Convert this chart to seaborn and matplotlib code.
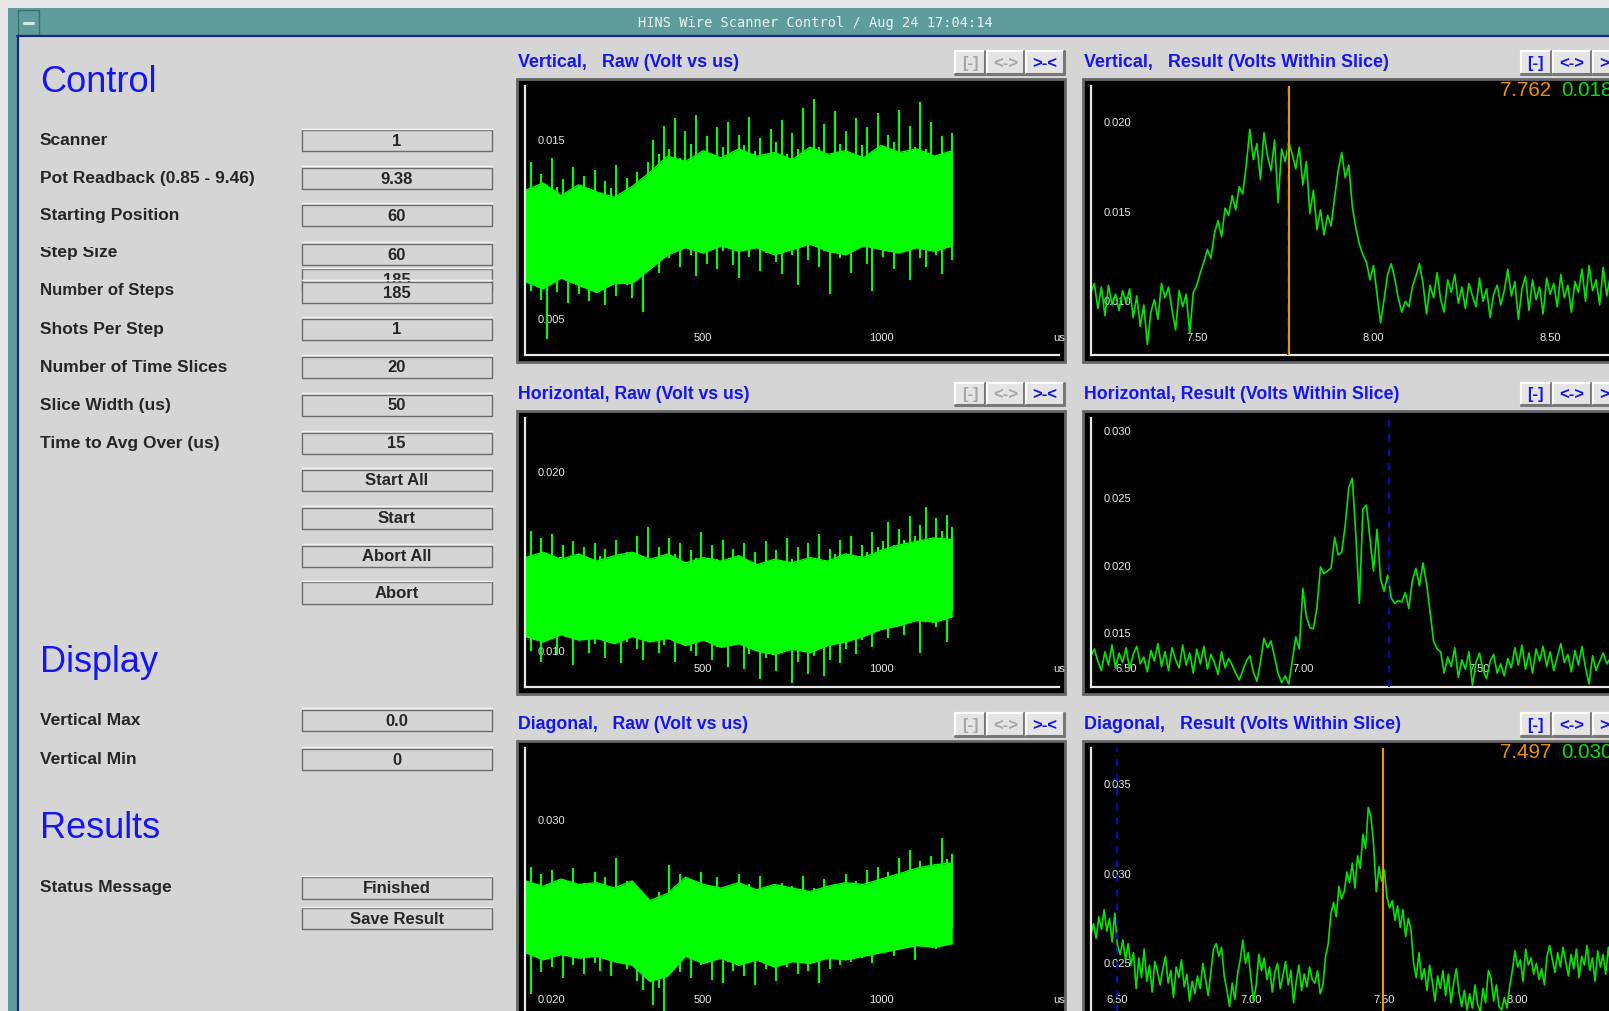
import numpy as np
import matplotlib
matplotlib.use("Agg")
import matplotlib.pyplot as plt
from matplotlib.patches import Rectangle
from matplotlib.ticker import MultipleLocator, FixedLocator, FormatStrFormatter
from matplotlib import font_manager as fm
import seaborn as sns

# ---------------- data ----------------
# left control panel
control_labels = ["Scanner", "Pot Readback (0.85 - 9.46)", "Starting Position", "Step Size",
                  "Number of Steps", "Shots Per Step", "Number of Time Slices",
                  "Slice Width (us)", "Time to Avg Over (us)"]
control_values = ["1", "9.38", "60", "60", "185", "1", "20", "50", "15"]
action_buttons = ["Start All", "Start", "Abort All", "Abort"]
display_labels = ["Vertical Max", "Vertical Min"]
display_values = ["0.0", "0"]
status_label = "Status Message"
status_value = "Finished"
save_label = "Save Result"

panel_titles = [["Vertical,   Raw (Volt vs us)", "Vertical,   Result (Volts Within Slice)"],
                ["Horizontal, Raw (Volt vs us)", "Horizontal, Result (Volts Within Slice)"],
                ["Diagonal,   Raw (Volt vs us)", "Diagonal,   Result (Volts Within Slice)"]]

# raw traces, mV, 0..1200 us
raw_t_end = 1200
# dense core of the trace (every 50 us)
vert_core_top = [12.2, 12.6, 11.9, 12.5, 12.1, 11.8, 12.4, 13.2, 14.1, 13.8, 14.4, 14.0, 14.5, 14.1,
                 14.3, 13.9, 14.6, 14.2, 14.4, 14.0, 14.7, 14.3, 14.5, 14.1, 14.4]
vert_core_bot = [7.1, 6.7, 7.3, 6.9, 6.5, 7.0, 7.0, 7.8, 8.6, 9.0, 8.7, 9.1, 8.8, 9.0, 8.6, 8.9, 9.2,
                 8.8, 8.6, 9.1, 8.9, 8.7, 9.0, 8.8, 9.1]
horiz_core_top = [15.2, 15.5, 15.1, 15.4, 15.0, 15.3, 15.5, 15.1, 15.4, 14.9, 15.2, 15.0, 15.3, 14.8,
                  15.1, 14.9, 15.2, 15.0, 15.4, 15.2, 15.6, 15.9, 16.1, 16.3, 16.2]
horiz_core_bot = [10.8, 10.5, 10.9, 10.6, 10.7, 10.4, 10.8, 10.5, 10.7, 10.3, 10.6, 10.2, 10.4, 10.0,
                  9.8, 10.1, 9.9, 10.3, 10.5, 10.8, 11.2, 11.4, 11.7, 11.6, 11.9]
diag_core_top = [26.6, 26.3, 26.7, 26.4, 26.5, 26.2, 26.6, 25.5, 25.9, 26.8, 26.4, 26.2, 26.5, 26.1,
                 26.4, 26.2, 26.0, 26.3, 26.5, 26.4, 26.7, 27.0, 27.3, 27.5, 27.6]
diag_core_bot = [22.6, 22.2, 22.5, 22.3, 22.4, 22.1, 21.9, 21.0, 21.3, 22.4, 22.0, 22.3, 21.9, 22.2,
                 21.8, 22.1, 22.0, 22.3, 22.2, 22.4, 22.6, 22.8, 23.0, 22.9, 23.1]
# peak excursions (max / min, every 15 us)
vert_raw_top = [12.5, 13.8, 12.1, 13.1, 11.9, 14.0, 12.4, 12.8, 11.7, 13.5, 12.2, 13.0, 12.0, 13.3, 11.8,
                12.7, 12.3, 13.6, 11.9, 12.9, 12.1, 13.2, 12.5,
                13.8, 15.0, 14.2, 15.8, 14.5, 16.2, 14.0, 15.5, 14.8, 16.4, 14.3, 15.2, 13.9, 15.7, 14.6,
                16.0, 14.1, 15.3, 14.7, 16.3, 14.4, 15.1, 14.0, 15.6, 14.9, 16.1, 14.2, 15.4, 14.5, 16.8,
                14.3, 17.3, 14.6, 15.9, 14.1, 16.6, 14.8, 15.5, 14.2, 16.2, 14.7, 15.7, 14.4, 16.5, 14.0,
                15.3, 14.9, 16.7, 14.3, 15.8, 14.6, 17.1, 14.5, 16.0, 14.1, 15.2, 13.9, 15.4]
vert_raw_bot = [7.4, 6.6, 7.9, 6.1, 3.9, 7.2, 6.5, 7.7, 5.9, 7.0, 6.4, 7.8, 6.0, 7.3, 6.7, 5.8, 7.5,
                6.3, 7.1, 6.9, 6.2, 7.6, 5.4,
                8.2, 8.9, 7.6, 9.3, 8.4, 9.0, 7.9, 9.5, 8.6, 7.4, 9.1, 8.1, 9.4, 7.8, 8.8, 9.6, 8.0,
                7.3, 9.2, 8.5, 9.0, 7.7, 8.7, 9.4, 8.2, 7.5, 9.1, 8.6, 6.9, 9.3, 8.3, 9.5, 7.9, 8.8,
                6.4, 9.0, 8.4, 9.2, 7.6, 8.9, 9.4, 8.1, 6.6, 9.1, 8.5, 9.3, 7.8, 8.7, 9.0, 7.2, 9.2,
                8.4, 7.9, 9.1, 8.6, 7.5, 9.0, 8.3]
horiz_raw_top = [15.6, 16.7, 15.0, 16.3, 14.8, 16.5, 15.2, 15.9, 14.6, 16.1, 15.4, 15.8, 14.9, 16.0,
                 15.3, 15.7, 14.7, 16.2, 15.1, 15.5, 14.8, 16.4, 15.2, 16.9, 15.0, 15.8, 14.6, 16.3,
                 15.4, 16.0, 14.9, 15.6, 15.2, 16.6, 14.7, 15.9, 15.1, 16.2, 14.5, 15.7, 15.3, 16.0,
                 14.8, 15.5, 14.4, 16.1, 15.0, 15.6, 14.6, 16.3, 15.1, 15.8, 14.9, 16.0, 15.2, 16.5,
                 14.8, 15.7, 15.4, 16.2, 15.0, 16.4, 15.3, 15.9, 15.5, 16.6, 15.8,
                 16.1, 17.2, 15.9, 16.8, 16.2, 17.5, 16.4, 17.0, 18.0, 16.3, 17.4, 16.7, 17.6, 16.9]
horiz_raw_bot = [11.2, 10.0, 11.6, 9.4, 10.8, 11.3, 9.8, 10.9, 11.5, 9.2, 10.6, 11.1, 9.9, 10.4, 11.4,
                 9.6, 10.7, 11.0, 9.3, 10.5, 11.2, 10.1, 9.5, 10.9, 11.3, 9.9, 10.3, 11.0, 9.4, 10.6,
                 11.2, 10.0, 9.7, 10.8, 11.1, 9.5, 10.2, 10.9, 9.1, 10.4, 10.7, 9.0, 9.8, 10.5, 8.4,
                 9.6, 10.3, 8.9, 9.9, 10.6, 8.2, 9.4, 10.2, 8.7, 9.7, 10.4, 8.6, 9.5, 10.8, 9.3, 10.1,
                 11.0, 9.8, 10.6, 11.4, 10.2, 11.1, 11.8, 10.7, 11.5, 12.0, 10.9, 11.9, 12.3, 9.9,
                 11.7, 12.4, 11.3, 12.1, 10.5, 12.2]
diag_raw_top = [26.2, 27.4, 25.9, 27.0, 26.4, 27.2, 25.8, 26.7, 26.0, 27.3, 25.6, 26.5, 26.1, 27.1,
                25.7, 26.8, 25.9, 27.9, 25.5, 26.6, 26.0, 25.2, 24.6, 25.4, 24.8, 26.0, 25.1, 27.5,
                26.3, 27.0, 25.9, 26.6, 25.4, 27.1, 26.0, 25.5, 26.8, 25.3, 26.2, 25.8, 27.0, 25.2,
                26.4, 25.6, 26.9, 25.0, 26.1, 25.7, 26.5, 25.3, 26.3, 25.5, 26.9, 25.8, 26.2, 25.4,
                26.7, 25.9, 26.4, 25.6, 27.0, 26.0, 26.6, 25.8, 27.2, 26.3, 27.4, 26.5, 27.1, 26.8,
                27.9, 26.6, 28.3, 27.0, 27.7, 26.9, 28.0, 27.3, 29.0, 27.8, 28.1]
diag_raw_bot = [23.2, 20.3, 22.6, 21.5, 23.0, 21.8, 22.4, 21.2, 22.9, 21.9, 22.5, 21.4, 23.1, 22.0,
                21.6, 22.7, 21.3, 22.8, 22.2, 21.7, 22.4, 21.0, 20.5, 21.4, 19.7, 20.6, 19.2, 21.8,
                22.6, 21.5, 22.9, 21.2, 22.3, 21.9, 22.7, 21.1, 22.4, 20.9, 22.1, 21.6, 22.8, 21.3,
                22.5, 20.8, 22.2, 21.7, 22.6, 21.0, 22.3, 21.8, 22.9, 21.4, 22.0, 21.6, 22.5, 20.9,
                22.4, 21.7, 23.0, 21.9, 22.6, 22.1, 22.8, 22.3, 23.2, 22.0, 23.3, 22.7, 23.5, 22.4,
                23.6, 22.9, 23.4, 22.2, 23.8, 23.0, 23.7, 22.8, 23.9, 23.5, 24.0]

# result traces (mV), evenly spaced over the given position range
vert_res_span = (7.20, 8.70)
vert_res = [10.5, 11.0, 9.6, 10.8, 9.2, 10.9, 9.8, 10.4, 9.5, 10.6, 9.9, 10.7, 9.1, 10.3, 8.6, 9.8,
            7.6, 9.4, 10.1, 9.0, 11.0, 10.2, 10.8, 9.5, 8.4, 10.6, 9.7, 10.4, 8.2, 10.5, 10.9, 11.6,
            12.2, 12.9, 12.4, 13.8, 14.5, 13.6, 15.2, 14.8, 15.9, 15.1, 16.4, 16.0, 17.6, 19.6, 17.9,
            18.8, 16.8, 19.4, 18.1, 17.3, 19.0, 15.5, 18.5, 17.8, 18.9, 18.2, 17.4, 18.6, 16.5, 17.8,
            14.9, 16.2, 14.0, 15.1, 13.7, 14.8, 14.2, 15.8, 17.3, 18.3, 16.9, 17.6, 15.3, 14.1, 13.2,
            12.6, 12.2, 11.2, 12.0, 10.4, 8.8, 10.1, 11.5, 12.1, 11.3, 10.2, 9.4, 10.0, 9.7, 10.8,
            11.4, 12.1, 11.0, 9.3, 10.9, 10.2, 11.6, 10.1, 9.4, 11.2, 10.5, 11.5, 9.9, 10.8, 9.6,
            11.0, 10.3, 9.7, 11.3, 10.0, 10.7, 9.1, 10.4, 10.9, 9.8, 10.6, 11.8, 10.3, 11.1, 9.0,
            10.7, 11.4, 9.5, 11.2, 10.1, 10.8, 9.3, 11.3, 10.4, 11.0, 9.7, 11.5, 10.2, 10.9, 9.4,
            11.1, 10.5, 11.8, 10.0, 12.0, 10.6, 11.2, 9.8, 11.9, 10.3, 11.4, 10.0, 11.6, 10.8]
horiz_res_span = (6.40, 7.91)
horiz_res = [13.3, 13.8, 12.9, 12.2, 13.6, 12.6, 14.1, 12.4, 13.5, 12.8, 13.9, 12.3, 13.4, 14.0,
             12.7, 13.2, 12.1, 13.7, 12.9, 14.2, 12.5, 13.6, 12.2, 13.9, 13.0, 12.4, 14.1, 12.6,
             13.5, 12.0, 13.8, 12.7, 14.0, 12.3, 13.4, 12.8, 11.9, 13.6, 12.4, 13.1, 12.6, 12.0,
             11.5, 12.2, 12.9, 13.3, 12.1, 11.4, 12.8, 14.6, 13.9, 14.4, 13.2, 12.0, 11.3, 11.8,
             11.2, 12.9, 14.7, 13.8, 18.3, 16.2, 15.4, 15.3, 16.9, 19.9, 19.4, 19.6, 19.8, 22.1,
             20.8, 21.0, 23.0, 25.8, 26.5, 22.3, 17.2, 24.2, 24.5, 22.0, 19.6, 22.7, 19.0, 18.1,
             19.3, 17.6, 17.2, 17.4, 17.3, 18.0, 16.8, 18.9, 19.8, 18.5, 20.2, 18.7, 16.6, 14.4,
             13.8, 13.6, 12.0, 13.2, 12.5, 13.9, 11.7, 13.0, 12.3, 13.6, 11.1, 12.8, 13.5, 12.2,
             11.6, 12.9, 13.4, 12.0, 12.7, 11.8, 13.1, 12.4, 13.9, 12.6, 14.1, 12.3, 13.5, 12.0,
             13.8, 12.9, 14.0, 12.5, 13.6, 12.2, 13.2, 14.2, 12.8, 13.4, 12.1, 13.7, 12.6, 14.0,
             12.4, 11.2, 13.3, 12.2, 12.9, 13.5, 12.7, 13.1, 12.5, 13.4, 13.0, 13.2]
diag_res_span = (6.40, 8.40)
diag_res = [26.6, 27.2, 26.4, 27.6, 26.9, 28.0, 26.8, 27.5, 26.2, 27.8, 26.0, 25.5, 26.3, 25.2,
            26.1, 24.9, 25.6, 23.6, 25.3, 24.2, 25.8, 24.0, 24.9, 23.4, 25.1, 24.5, 23.8, 24.7,
            25.4, 23.9, 24.6, 23.1, 24.8, 24.2, 25.2, 23.7, 24.4, 22.9, 24.0, 23.3, 24.3, 23.6,
            25.0, 24.1, 23.2, 24.5, 25.8, 26.1, 25.4, 25.9, 24.3, 23.5, 22.6, 23.9, 23.0, 24.4,
            25.2, 26.3, 25.0, 25.6, 24.2, 22.9, 23.8, 25.5, 24.6, 25.3, 24.1, 24.8, 23.4, 24.5,
            25.0, 23.6, 24.3, 25.1, 23.8, 24.6, 22.8, 24.0, 24.9, 23.5, 24.4, 23.7, 24.8, 24.1,
            23.9, 24.6, 23.3, 23.8, 25.4, 26.1, 27.8, 28.4, 27.6, 29.3, 28.6, 29.0, 30.1, 29.5,
            30.6, 29.2, 31.0, 30.3, 32.2, 31.4, 33.7, 33.2, 31.6, 29.0, 30.4, 29.6, 30.2, 28.7,
            28.1, 28.5, 27.4, 28.2, 27.0, 28.0, 26.5, 27.5, 26.9, 25.0, 24.2, 25.6, 24.1, 24.7,
            23.5, 24.9, 24.0, 22.9, 24.3, 23.6, 24.6, 23.2, 24.4, 22.8, 23.9, 24.7, 23.4, 22.6,
            23.5, 22.4, 23.3, 22.5, 23.8, 22.7, 22.3, 23.6, 22.8, 24.6, 24.2, 22.9, 23.8, 22.6,
            22.4, 23.1, 22.5, 23.7, 24.6, 25.7, 24.8, 25.2, 24.0, 25.8, 24.9, 25.3, 24.4, 25.0,
            24.1, 24.7, 23.8, 25.4, 26.0, 25.2, 24.5, 25.6, 24.8, 25.9, 25.1, 24.3, 25.5, 24.7,
            25.8, 24.2, 25.4, 24.9, 26.0, 24.6, 25.3, 24.0, 25.7, 24.8, 25.5, 24.4, 25.9, 24.6,
            25.2, 24.1, 25.6, 24.9, 25.3]

# cursors: (dashed marker, solid cursor, readout value)
vert_cursor = (7.757, 7.762, "0.018")
horiz_cursor = (7.243, None, None)
diag_cursor = (6.50, 7.497, "0.030")

# ---------------- look ----------------
sns.set_style("white")
plt.rcParams['font.family'] = ['Liberation Sans', 'DejaVu Sans']
names = {f.name for f in fm.fontManager.ttflist}
NARROW = 'Liberation Sans Narrow' if 'Liberation Sans Narrow' in names else 'Liberation Sans'

BG = '#d5d5d5'
TEAL = '#5f9c9c'
NAVY = '#1c2a78'
BLUE = '#1414f5'
GREEN = '#00ff00'
TRACE = '#00e600'
ORANGE = '#f09400'
GREY_TXT = '#a6a6a6'

W, H = 1568, 985          # layout units = pixels of the reference view
SCALE = 1609 / W          # layout unit -> output pixel
COL_X = [504, 1055]       # black panel left edges
ROW_Y = [77, 400, 722]    # black panel top edges
PANEL_W, PANEL_H = 534, 276
AX_W, AX_H = 520, 262

fig = plt.figure(figsize=(16.09, 10.11), dpi=100)
fig.patch.set_facecolor(BG)
bg = fig.add_axes([0, 0, 1, 1])
bg.set_xlim(0, W)
bg.set_ylim(H, 0)
bg.axis('off')
renderer = fig.canvas.get_renderer()


def fit_width(t, target):
    # scale the font so the text spans `target` layout units
    w = t.get_window_extent(renderer).width
    t.set_fontsize(t.get_fontsize() * target * SCALE / w)
    return t.get_fontsize()


# window frame
bg.add_patch(Rectangle((0, 0), W, 8, facecolor='#e6e6e6', edgecolor='none'))
bg.add_patch(Rectangle((0, 0), 8, H, facecolor='#e6e6e6', edgecolor='none'))
bg.add_patch(Rectangle((8, 8), W, 27, facecolor=TEAL, edgecolor='none'))
bg.add_patch(Rectangle((8, 8), 9, H, facecolor=TEAL, edgecolor='none'))
bg.plot([17, W], [35.5, 35.5], color=NAVY, lw=1.6)
bg.plot([17.5, 17.5], [35, H], color=NAVY, lw=1.6)
bg.add_patch(Rectangle((18, 10), 20, 24, facecolor=TEAL, edgecolor='#3f7070', lw=1))
bg.plot([23, 32], [22, 22], color='#d8e8e8', lw=2.2)
bg.text(795, 22, "HINS Wire Scanner Control / Aug 24 17:04:14", ha='center', va='center',
        fontsize=9.8, family='DejaVu Sans Mono', color='#eef4f4')


def field_box(x, yc, text, w=185, h=21, z=2):
    y = yc - h / 2
    bg.add_patch(Rectangle((x, y), w, h, facecolor=BG, edgecolor='#6c6c6c', lw=1.0, zorder=z))
    bg.plot([x, x + w], [y - 1.3, y - 1.3], color='#f4f4f4', lw=1.0, zorder=z)
    bg.text(x + w / 2, yc + 0.5, text, ha='center', va='center', fontsize=12,
            fontweight='bold', zorder=z + 0.5)


def head(y, text):
    bg.text(39, y, text, ha='left', va='center', fontsize=26, color=BLUE)


def label(y, text, **kw):
    style = dict(fontsize=12.5, fontweight='bold')
    style.update(kw)
    return bg.text(39, y, text, ha='left', va='center', **style)


# left column
head(80, "Control")
label_y = [137, 174, 210, 246, 283, 321, 358, 395, 432]
box_y = [137, 174, 210, 248, 285, 321, 358, 395, 432]
field_box(294, 273, control_values[4], z=1)      # half hidden duplicate under "Number of Steps"
for i, (lab, val) in enumerate(zip(control_labels, control_values)):
    if lab == "Number of Steps":
        t = label(label_y[i], lab, family=NARROW, fontsize=16)
        fit_width(t, 130)
    else:
        label(label_y[i], lab)
    field_box(294, box_y[i], val)
# the "Step Size" caption is half covered by the widget above it
bg.add_patch(Rectangle((30, 225), 240, 15.5, facecolor=BG, edgecolor='none', zorder=5))

for yc, txt in zip([468, 505, 542, 578], action_buttons):
    field_box(294, yc, txt)

head(645, "Display")
for yc, lab, val in zip([702, 740], display_labels, display_values):
    label(yc, lab)
    field_box(294, yc, val)

head(807, "Results")
label(865, status_label)
field_box(294, 865, status_value)
field_box(294, 895, save_label)


def title_button(x, y, w, text, active, h=22):
    bg.add_patch(Rectangle((x, y), w, h, facecolor='#e4e4e4', edgecolor='none'))
    bg.plot([x, x + w], [y, y], color='white', lw=1.6)
    bg.plot([x, x], [y, y + h], color='white', lw=1.6)
    bg.plot([x, x + w], [y + h, y + h], color='#777777', lw=2.2)
    bg.plot([x + w, x + w], [y, y + h], color='#777777', lw=2.2)
    bg.text(x + w / 2, y + h / 2 + 0.5, text, ha='center', va='center', fontsize=12,
            fontweight='bold', color=BLUE if active else GREY_TXT)


title_widths = [[215, 296], [225, 307], [225, 307]]


def make_panel(col, row):
    x0, y0 = COL_X[col], ROW_Y[row]
    bg.add_patch(Rectangle((x0, y0), PANEL_W, PANEL_H, facecolor='black',
                           edgecolor='#666666', lw=2))
    t = bg.text(x0 + 1, y0 - 16, panel_titles[row][col], ha='left', va='center', fontsize=14,
                fontweight='bold', family=NARROW, color=BLUE)
    fit_width(t, title_widths[row][col])
    if col == 0:
        bx = [x0 + 427, x0 + 458, x0 + 496]
        bw = [29, 36, 37]
        active = [False, False, True]
    else:
        bx = [x0 + 427, x0 + 458, x0 + 497]
        bw = [29, 37, 37]
        active = [True, True, True]
    for x, w, s, a in zip(bx, bw, ["[-]", "<->", ">-<"], active):
        title_button(x, y0 - 27, w, s, a)
    px, py = x0 + 8, y0 + 7
    return fig.add_axes([px / W, 1 - (py + AX_H) / H, AX_W / W, AX_H / H])


def style_axes(ax, xlim, ylim, xmajor, xlabels, xminor):
    ax.set_facecolor('black')
    ax.set_xlim(*xlim)
    ax.set_ylim(*ylim)
    ax.set_xlabel('')
    ax.set_ylabel('')
    ax.grid(False)
    for s in ['top', 'right']:
        ax.spines[s].set_visible(False)
    for s in ['left', 'bottom']:
        ax.spines[s].set_color('#e8e8e8')
        ax.spines[s].set_linewidth(1.6)
    ax.xaxis.set_major_locator(FixedLocator(xmajor))
    ax.set_xticklabels(xlabels)
    ax.xaxis.set_minor_locator(MultipleLocator(xminor))
    ax.yaxis.set_major_locator(MultipleLocator(0.005))
    ax.yaxis.set_minor_locator(MultipleLocator(0.001))
    ax.yaxis.set_major_formatter(FormatStrFormatter('%.3f'))
    ax.tick_params(axis='both', which='both', direction='in', colors='#e8e8e8', labelsize=8,
                   width=1.4)
    ax.tick_params(axis='y', which='major', length=8, pad=-9)
    ax.tick_params(axis='y', which='minor', length=4.5)
    ax.tick_params(axis='x', which='major', length=6, pad=-9)
    ax.tick_params(axis='x', which='minor', length=3.5)
    ax.set_axisbelow(True)
    for t in ax.get_yticklabels():
        t.set_horizontalalignment('left')
    for t in ax.get_xticklabels():
        t.set_verticalalignment('bottom')


def draw_raw(ax, core_top, core_bot, top, bot, ylim):
    tc = np.linspace(0, raw_t_end, len(core_top))
    ct = np.array(core_top) / 1000
    cb = np.array(core_bot) / 1000
    ax.fill_between(tc, cb, ct, color=GREEN, lw=0, zorder=2)
    sns.lineplot(x=tc, y=ct, ax=ax, color=GREEN, linewidth=1.0)
    sns.lineplot(x=tc, y=cb, ax=ax, color=GREEN, linewidth=1.0)
    # peak excursions drawn as thin min-max needles
    tp = np.linspace(0, raw_t_end, len(top))
    ax.vlines(tp, np.array(bot) / 1000, np.array(top) / 1000, color=GREEN, lw=1.5, zorder=2)
    style_axes(ax, (0, 1500), ylim, [500, 1000, 1500], ['500', '1000', 'us'], 100)


def draw_result(ax, vals, span, xlim, ylim, cursor):
    x = np.linspace(span[0], span[1], len(vals))
    sns.lineplot(x=x, y=np.array(vals) / 1000, ax=ax, color=TRACE, linewidth=1.2)
    ax.axvline(cursor[0], color='#0a0ad0', lw=1.3, ls=(0, (4, 4)), zorder=3)
    if cursor[1] is not None:
        ax.axvline(cursor[1], color=ORANGE, lw=1.5, zorder=4)
        t = ax.text(0.767, 0.985, f"{cursor[1]:.3f}", transform=ax.transAxes, ha='left',
                    va='center', fontsize=16, family=NARROW, color=ORANGE, clip_on=False,
                    zorder=6)
        size = fit_width(t, 50)
        ax.text(0.881, 0.985, cursor[2], transform=ax.transAxes, ha='left', va='center',
                fontsize=size, family=NARROW, color=TRACE, clip_on=False, zorder=6)
    major = [v for v in [6.5, 7.0, 7.5, 8.0, 8.5] if xlim[0] <= v <= xlim[1]]
    style_axes(ax, xlim, ylim, major, [f"{v:.2f}" for v in major], 0.1)


ax = make_panel(0, 0)
draw_raw(ax, vert_core_top, vert_core_bot, vert_raw_top, vert_raw_bot, (0.003, 0.018))
ax = make_panel(1, 0)
draw_result(ax, vert_res, vert_res_span, (7.20, 8.71), (0.007, 0.022), vert_cursor)

ax = make_panel(0, 1)
draw_raw(ax, horiz_core_top, horiz_core_bot, horiz_raw_top, horiz_raw_bot, (0.008, 0.023))
ax = make_panel(1, 1)
draw_result(ax, horiz_res, horiz_res_span, (6.40, 7.91), (0.011, 0.031), horiz_cursor)

ax = make_panel(0, 2)
draw_raw(ax, diag_core_top, diag_core_bot, diag_raw_top, diag_raw_bot, (0.019, 0.034))
ax = make_panel(1, 2)
draw_result(ax, diag_res, diag_res_span, (6.40, 8.40), (0.022, 0.037), diag_cursor)

fig.savefig("out.png", dpi=100, facecolor=BG)
